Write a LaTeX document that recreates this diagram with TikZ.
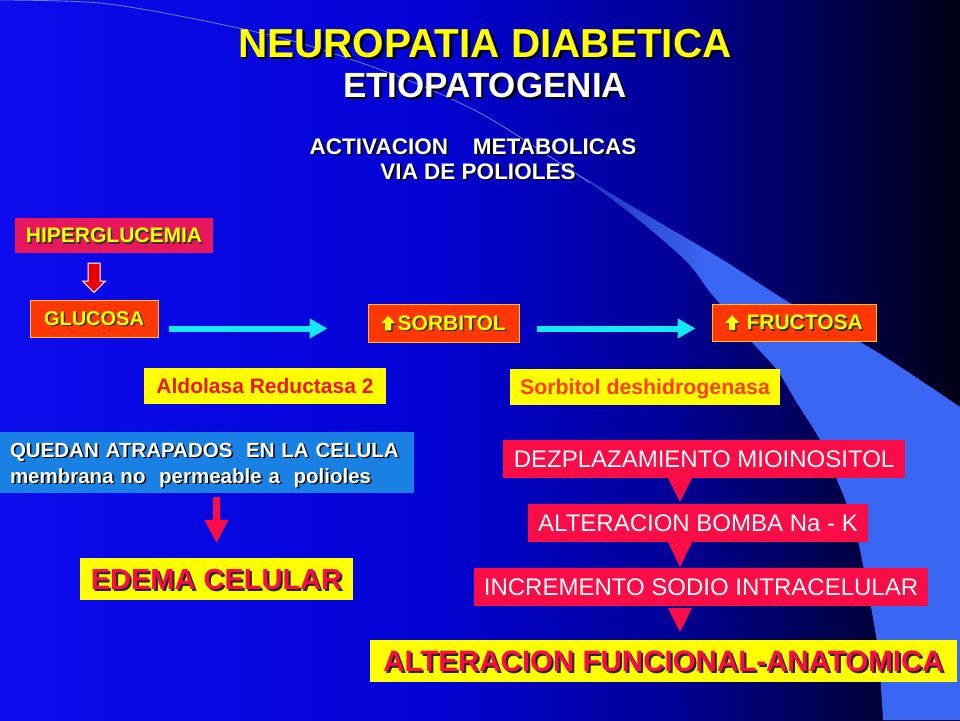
\documentclass[tikz,border=0pt]{standalone}
\usepackage{fontspec}
\setmainfont{Liberation Sans}
\usetikzlibrary{calc,arrows.meta}

\definecolor{crim}{RGB}{250,12,70}
\definecolor{hiperc}{RGB}{232,22,92}
\definecolor{orng}{RGB}{255,55,5}
\definecolor{bordy}{RGB}{255,200,40}
\definecolor{yel}{RGB}{255,255,0}
\definecolor{cyn}{RGB}{20,232,255}
\definecolor{qblue}{RGB}{25,128,228}
\definecolor{aldred}{RGB}{238,22,30}
\definecolor{desor}{RGB}{255,62,0}
\definecolor{arred}{RGB}{232,0,0}
\definecolor{bgA}{RGB}{12,12,238}
\definecolor{bgB}{RGB}{2,2,212}
\definecolor{bgC}{RGB}{0,0,150}
\definecolor{bgD}{RGB}{0,0,80}
\definecolor{bgE}{RGB}{0,0,22}
\definecolor{swA}{RGB}{25,40,170}
\definecolor{swB}{RGB}{58,102,244}
\definecolor{linec}{RGB}{110,130,230}

\pgfdeclarehorizontalshading{bgshade}{100bp}{color(0bp)=(bgA); color(25bp)=(bgA); color(47.5bp)=(bgB); color(60bp)=(bgC); color(68bp)=(bgD); color(75bp)=(bgE); color(100bp)=(bgE)}
\pgfdeclarehorizontalshading{swsh}{100bp}{color(0bp)=(swA); color(25bp)=(swA); color(44bp)=(swB); color(100bp)=(swB)}

\newcommand\shd[3]{\leavevmode\rlap{\kern#3\raisebox{-#3}{\textcolor{#1}{#2}}}#2}
\newcommand\uparr{\tikz[baseline=0pt,x=1pt,y=1pt]{\fill[black!80] (5.5,-1.5) -- (5.5,5.5) -- (1.5,5.5) -- (8.5,13) -- (15.5,5.5) -- (11.5,5.5) -- (11.5,-1.5) -- cycle; \fill[yel] (4,0) -- (4,7) -- (0,7) -- (7,14.5) -- (14,7) -- (10,7) -- (10,0) -- cycle;}}

\begin{document}
\begin{tikzpicture}[x=1pt,y=-1pt,
  box/.style={rectangle, inner sep=0pt, text depth=0pt, align=center},
  obox/.style={box, fill=orng, draw=bordy, line width=1pt, text=yel, font=\bfseries\fontsize{21}{24}\selectfont},
  rbox/.style={box, fill=crim, minimum height=38pt, text=white, font=\fontsize{24}{28}\selectfont},
  ybox/.style={box, fill=yel},
  cyanarr/.style={draw=cyn, line width=6pt, -{Triangle[length=18pt,width=19pt]}},
  ttl/.style={anchor=base, font=\bfseries}
]
% background
\shade[shading=bgshade] (0,0) rectangle (960,720);
\useasboundingbox (0,0) rectangle (960,720);
% swoosh
\shade[shading=swsh] plot[smooth,tension=0.5] coordinates {(552,158) (640,211) (723,260) (790,303) (877,352) (960,407)} -- (960,720) -- (883,720) -- plot[smooth,tension=0.5] coordinates {(883,720) (877,643) (860,550) (850,513) (837,480) (820,440) (797,403) (777,370) (750,340) (710,292) (687,262) (640,221) (590,183) (552,158)} -- cycle;
\draw[linec, line width=0.8pt] plot[smooth] coordinates {(0,0) (100,3) (200,20) (300,43) (400,77) (480,113) (552,158) (590,183)};

% titles
\node[ttl, text=yel, font=\bfseries\fontsize{40.5}{44}\selectfont] (title) at (485,57) {\shd{black}{NEUROPATIA DIABETICA}{2.5pt}};
\node[ttl, text=white, font=\bfseries\fontsize{35}{38}\selectfont] (sub) at (485,97) {\shd{black}{ETIOPATOGENIA}{2.2pt}};
\node[ttl, text=white, font=\bfseries\fontsize{22.5}{26}\selectfont] (act) at (473,154) {\shd{black}{ACTIVACION\hspace{25pt}METABOLICAS}{1.6pt}};
\node[ttl, text=white, font=\bfseries\fontsize{22.5}{26}\selectfont] (via) at (478,179) {\shd{black}{VIA DE POLIOLES}{1.6pt}};

% left flow
\node[box, fill=hiperc, minimum width=198pt, minimum height=35pt, text=yel, font=\bfseries\fontsize{21}{24}\selectfont] (hiper) at (114,235.5) {\shd{black!80}{HIPERGLUCEMIA}{1.5pt}};
\node[obox, minimum width=128pt, minimum height=37pt, font=\bfseries\fontsize{20}{24}\selectfont] (glu) at (94,318.5) {\shd{black!80}{GLUCOSA}{1.5pt}};
\node[obox, minimum width=151pt, minimum height=38pt] (sor) at (443.5,323) {\uparr\kern1pt\shd{black!80}{SORBITOL}{1.5pt}};
\node[obox, minimum width=164pt, minimum height=37pt] (fru) at (794,322.5) {\uparr\ \shd{black!80}{FRUCTOSA}{1.5pt}};

\node[ybox, minimum width=242pt, minimum height=36pt, text=aldred, font=\bfseries\fontsize{21}{24}\selectfont] (ald) at (265,386) {Aldolasa Reductasa 2};
\node[ybox, minimum width=270pt, minimum height=36pt, text=desor, font=\bfseries\fontsize{21.3}{24}\selectfont] (desh) at (645,387) {Sorbitol deshidrogenasa};

\node[box, fill=qblue, minimum width=414pt, minimum height=61pt, text width=394pt, align=left, text height=15pt, text depth=26pt, text=white, font=\bfseries\fontsize{20.5}{26}\selectfont] (qued) at (207,462.5) {\shd{black}{QUEDAN ATRAPADOS\ \ EN LA CELULA}{1.5pt}\\\shd{black}{membrana no\ \ permeable a\ \ polioles}{1.5pt}};
\node[ybox, minimum width=273pt, minimum height=42pt, text=crim, font=\bfseries\fontsize{29}{32}\selectfont] (edema) at (216.5,579) {\shd{black!85}{EDEMA CELULAR}{2pt}};

% right column
\node[rbox, minimum width=402pt] (b1) at (704,459) {DEZPLAZAMIENTO MIOINOSITOL};
\node[rbox, minimum width=340pt] (b2) at (698,523) {ALTERACION BOMBA Na - K};
\node[rbox, minimum width=454pt] (b3) at (701,587) {INCREMENTO SODIO INTRACELULAR};
\node[ybox, minimum width=587pt, minimum height=42pt, text=crim, font=\bfseries\fontsize{29.5}{32}\selectfont] (alt) at (663.5,661) {\shd{black!85}{ALTERACION FUNCIONAL-ANATOMICA}{2pt}};

% cyan arrows
\coordinate (arow) at (0,328.5);
\draw[cyanarr, shorten <=10pt, shorten >=40pt] (glu.east |- arow) -- (sor.west |- arow);
\draw[cyanarr, shorten <=17pt, shorten >=16pt] (sor.east |- arow) -- (fru.west |- arow);

% red arrow hiper -> glucosa
\coordinate (r1t) at ($(hiper.south -| glu.north)+(0,10)$);
\coordinate (r1b) at ($(glu.north)+(0,-7)$);
\filldraw[fill=arred, draw=white, line width=1pt, line join=miter] ($(r1t)+(-6,0)$) -- ($(r1b)+(-6,-11.5)$) -- ($(r1b)+(-11.5,-11.5)$) -- (r1b) -- ($(r1b)+(11.5,-11.5)$) -- ($(r1b)+(6,-11.5)$) -- ($(r1t)+(6,0)$) -- cycle;

% red arrow quedan -> edema
\coordinate (r2t) at ($(qued.south -| edema.north)+(0,4)$);
\coordinate (r2b) at ($(edema.north)+(0,-15)$);
\fill[crim] ($(r2t)+(-3.5,0)$) -- ($(r2b)+(-3.5,-23)$) -- ($(r2b)+(-12,-23)$) -- (r2b) -- ($(r2b)+(12,-23)$) -- ($(r2b)+(3.5,-23)$) -- ($(r2t)+(3.5,0)$) -- cycle;

% triangles right column
\coordinate (tx) at (680,0);
\fill[crim] ($(b1.south -| tx)+(-12,0)$) -- ($(b1.south -| tx)+(12,0)$) -- ($(b2.north -| tx)+(0,-2)$) -- cycle;
\fill[crim] ($(b2.south -| tx)+(-12,0)$) -- ($(b2.south -| tx)+(12,0)$) -- ($(b3.north -| tx)+(0,-1)$) -- cycle;
\fill[crim] ($(b3.south -| tx)+(-12,2)$) -- ($(b3.south -| tx)+(12,2)$) -- ($(alt.north -| tx)+(0,-8)$) -- cycle;
\end{tikzpicture}
\end{document}
